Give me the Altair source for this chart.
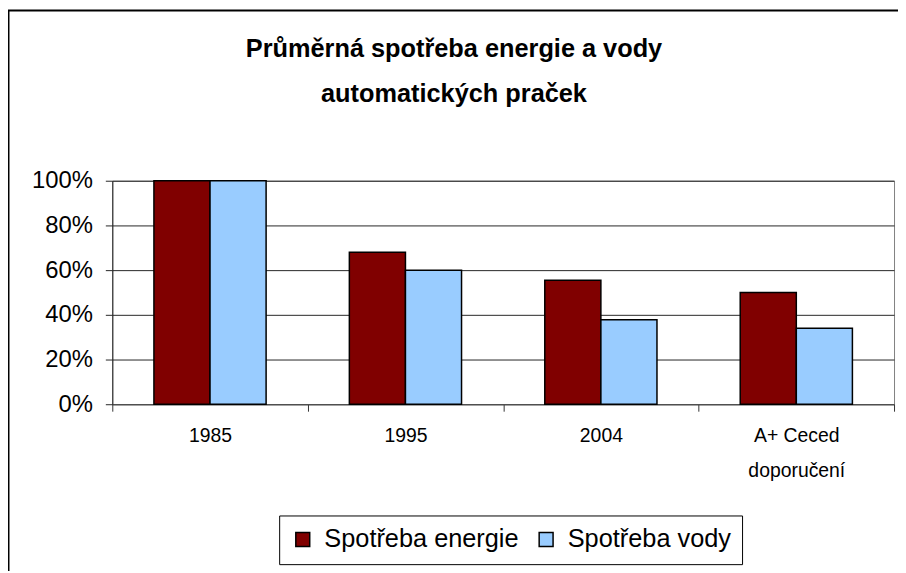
import altair as alt
import pandas as pd

categories = ["1985", "1995", "2004", "A+ Ceced doporučení"]
series = ["Spotřeba energie", "Spotřeba vody"]
energie = [1.00, 0.68, 0.555, 0.50]
voda = [1.00, 0.60, 0.378, 0.34]
colors = ["#800000", "#99CCFF"]
y_ticks = [0, 0.2, 0.4, 0.6, 0.8, 1.0]
title_lines = ["Průměrná spotřeba energie a vody", "automatických praček"]

rows = []
for c, e, w in zip(categories, energie, voda):
    rows.append({"kat": c, "serie": series[0], "hodnota": e})
    rows.append({"kat": c, "serie": series[1], "hodnota": w})
df = pd.DataFrame(rows)

FONT = "Liberation Sans, Arial"

bars = alt.Chart(df).mark_bar(stroke="black", strokeWidth=1.5).encode(
    x=alt.X(
        "kat:N", sort=categories, title=None,
        scale=alt.Scale(paddingInner=0, paddingOuter=0),
        axis=alt.Axis(
            labelAngle=0, tickBand="extent", domainColor="#555555", tickColor="#333333",
            tickSize=7, labelFontSize=19.5, labelFont=FONT, labelPadding=16,
            labelLineHeight=35, labelColor="black", grid=False,
            labelExpr="datum.value == 'A+ Ceced doporučení' ? ['A+ Ceced', 'doporučení'] : datum.label",
        ),
    ),
    xOffset=alt.XOffset("serie:N", sort=series, scale=alt.Scale(paddingOuter=0.742, paddingInner=0)),
    y=alt.Y(
        "hodnota:Q", title=None, scale=alt.Scale(domain=[0, 1]),
        axis=alt.Axis(
            values=y_ticks, format=".0%", grid=True, gridColor="#262626", gridWidth=1,
            domainColor="#262626", tickColor="#262626", tickSize=7, labelFontSize=24,
            labelFont=FONT, labelPadding=13, labelColor="black",
        ),
    ),
    color=alt.Color(
        "serie:N", sort=series, scale=alt.Scale(domain=series, range=colors),
        legend=alt.Legend(
            title=None, orient="none", legendX=168, legendY=337, direction="horizontal",
            strokeColor="black", padding=11, symbolType="square", symbolSize=196,
            symbolStrokeColor="black", symbolStrokeWidth=1.5, labelFontSize=25.5,
            labelFont=FONT, columnPadding=14, labelOffset=9, fillColor="white",
            labelColor="black", labelLimit=400,
        ),
    ),
)

frame = alt.Data(values=[{"a": 1}])
left_border = alt.Chart(frame).mark_rule(color="black", strokeWidth=2).encode(
    x=alt.value(-104.5), y=alt.value(-171.5), y2=alt.value(420)
)
top_border = alt.Chart(frame).mark_rule(color="black", strokeWidth=2).encode(
    x=alt.value(-105.5), x2=alt.value(800), y=alt.value(-171.5)
)

chart = alt.layer(bars, left_border, top_border).properties(
    width=787,
    height=225,
    autosize=alt.AutoSizeParams(type="none"),
    padding={"left": 105, "top": 172, "right": 4, "bottom": 166},
    background="white",
    title=alt.Title(
        title_lines, fontSize=25.5, font="Liberation Sans", fontWeight="bold",
        lineHeight=46, anchor="middle", dx=-49.5, offset=-99, color="black",
    ),
).configure_view(stroke="#808080", strokeWidth=1)

chart.save("out.html", embed_options={"renderer": "svg", "actions": False})
